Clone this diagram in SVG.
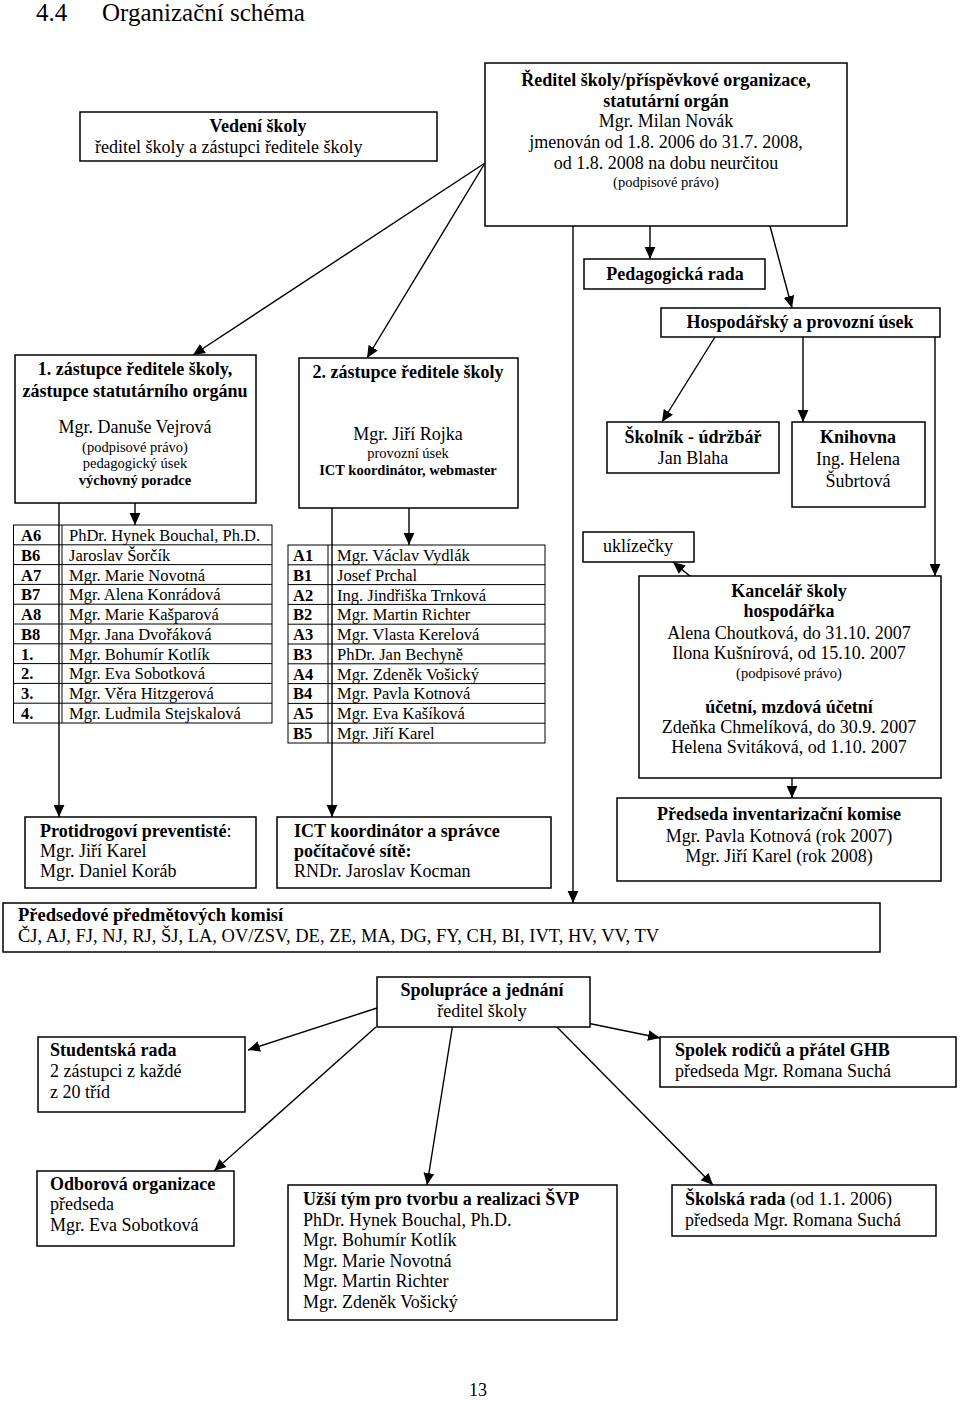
<svg xmlns="http://www.w3.org/2000/svg" width="960" height="1401" viewBox="0 0 960 1401">
<defs>
<style>
text{font-family:"Liberation Serif","Times New Roman",serif;font-size:18px;fill:#000}
.b{font-weight:bold}
.s{font-size:14.5px}
.c{text-anchor:middle}
.tb{font-size:16.5px}
.title{font-size:25px}
.wide{font-size:18.5px}
.box{fill:#fff;stroke:#000;stroke-width:1.5}
.cn line{stroke:#000;stroke-width:1.4;fill:none}
.grid{stroke:#000;stroke-width:1;fill:none}
</style>
<marker id="ah" viewBox="0 0 10 10" refX="10" refY="5" markerWidth="12" markerHeight="12" markerUnits="userSpaceOnUse" orient="auto">
<path d="M0,0.5 L10,5 L0,9.5 z" fill="#000"/>
</marker>
</defs>
<rect width="960" height="1401" fill="#fff"/>

<g id="title">
<text class="title" x="36" y="21">4.4</text>
<text class="title" x="102" y="21">Organizační schéma</text>
</g>

<g id="connectors" class="cn">
<line x1="485" y1="163" x2="193" y2="355" marker-end="url(#ah)"/>
<line x1="485" y1="163" x2="367" y2="358" marker-end="url(#ah)"/>
<line x1="650" y1="226" x2="650" y2="259" marker-end="url(#ah)"/>
<line x1="770" y1="226" x2="792" y2="308" marker-end="url(#ah)"/>
<line x1="573" y1="226" x2="573" y2="903" marker-end="url(#ah)"/>
<line x1="715" y1="337" x2="662" y2="422" marker-end="url(#ah)"/>
<line x1="803" y1="337" x2="803" y2="422" marker-end="url(#ah)"/>
<line x1="935" y1="337" x2="935" y2="576" marker-end="url(#ah)"/>
<line x1="727" y1="607" x2="673" y2="562" marker-end="url(#ah)"/>
<line x1="792" y1="768" x2="792" y2="798" marker-end="url(#ah)"/>
<line x1="59" y1="503" x2="59" y2="817" marker-end="url(#ah)"/>
<line x1="135" y1="503" x2="135" y2="525" marker-end="url(#ah)"/>
<line x1="332" y1="508" x2="332" y2="817" marker-end="url(#ah)"/>
<line x1="409" y1="508" x2="409" y2="545" marker-end="url(#ah)"/>
<line x1="377" y1="1008" x2="248" y2="1050" marker-end="url(#ah)"/>
<line x1="587" y1="1023" x2="660" y2="1038" marker-end="url(#ah)"/>
<line x1="376" y1="1027" x2="214" y2="1171" marker-end="url(#ah)"/>
<line x1="453" y1="1023" x2="427" y2="1185" marker-end="url(#ah)"/>
<line x1="554" y1="1024" x2="713" y2="1185" marker-end="url(#ah)"/>
</g>

<g id="vedeni">
<rect class="box" x="80" y="112" width="357" height="49"/>
<text class="b c" x="258" y="132">Vedení školy</text>
<text x="95" y="153">ředitel školy a zástupci ředitele školy</text>
</g>

<g id="reditel">
<rect class="box" x="485" y="63" width="362" height="163"/>
<text class="b c" x="666" y="86">Ředitel školy/příspěvkové organizace,</text>
<text class="b c" x="666" y="107">statutární orgán</text>
<text class="c" x="666" y="127">Mgr. Milan Novák</text>
<text class="c" x="666" y="148">jmenován od 1.8. 2006 do 31.7. 2008,</text>
<text class="c" x="666" y="169">od 1.8. 2008 na dobu neurčitou</text>
<text class="c s" x="666" y="187">(podpisové právo)</text>
</g>

<g id="pedagogicka-rada">
<rect class="box" x="584" y="259" width="181" height="30"/>
<text class="b c" x="675" y="280">Pedagogická rada</text>
</g>

<g id="hospodarsky">
<rect class="box" x="661" y="308" width="279" height="29"/>
<text class="b c" x="800" y="328">Hospodářský a provozní úsek</text>
</g>

<g id="zastupce1">
<rect class="box" x="15" y="355" width="241" height="148"/>
<text class="b c" x="135" y="375">1. zástupce ředitele školy,</text>
<text class="b c" x="135" y="397">zástupce statutárního orgánu</text>
<text class="c" x="135" y="433">Mgr. Danuše Vejrová</text>
<text class="c s" x="135" y="452">(podpisové právo)</text>
<text class="c s" x="135" y="468">pedagogický úsek</text>
<text class="c s b" x="135" y="485">výchovný poradce</text>
</g>

<g id="zastupce2">
<rect class="box" x="299" y="358" width="219" height="150"/>
<text class="b c" x="408" y="378">2. zástupce ředitele školy</text>
<text class="c" x="408" y="440">Mgr. Jiří Rojka</text>
<text class="c s" x="408" y="458">provozní úsek</text>
<text class="c s b" x="408" y="475">ICT koordinátor, webmaster</text>
</g>

<g id="skolnik">
<rect class="box" x="607" y="422" width="172" height="51"/>
<text class="b c" x="693" y="443">Školník - údržbář</text>
<text class="c" x="693" y="464">Jan Blaha</text>
</g>

<g id="knihovna">
<rect class="box" x="792" y="422" width="133" height="85"/>
<text class="b c" x="858" y="443">Knihovna</text>
<text class="c" x="858" y="465">Ing. Helena</text>
<text class="c" x="858" y="487">Šubrtová</text>
</g>

<g id="tabulka-1">
<rect class="grid" x="13.5" y="525" width="258.5" height="198"/>
<path class="grid" d="M62,525V723 M13.5,544.8H272 M13.5,564.6H272 M13.5,584.4H272 M13.5,604.2H272 M13.5,624H272 M13.5,643.8H272 M13.5,663.6H272 M13.5,683.4H272 M13.5,703.2H272"/>
<text class="tb b" x="21" y="541">A6</text><text class="tb" x="69" y="541">PhDr. Hynek Bouchal, Ph.D.</text>
<text class="tb b" x="21" y="561">B6</text><text class="tb" x="69" y="561">Jaroslav Šorčík</text>
<text class="tb b" x="21" y="581">A7</text><text class="tb" x="69" y="581">Mgr. Marie Novotná</text>
<text class="tb b" x="21" y="600">B7</text><text class="tb" x="69" y="600">Mgr. Alena Konrádová</text>
<text class="tb b" x="21" y="620">A8</text><text class="tb" x="69" y="620">Mgr. Marie Kašparová</text>
<text class="tb b" x="21" y="640">B8</text><text class="tb" x="69" y="640">Mgr. Jana Dvořáková</text>
<text class="tb b" x="21" y="660">1.</text><text class="tb" x="69" y="660">Mgr. Bohumír Kotlík</text>
<text class="tb b" x="21" y="679">2.</text><text class="tb" x="69" y="679">Mgr. Eva Sobotková</text>
<text class="tb b" x="21" y="699">3.</text><text class="tb" x="69" y="699">Mgr. Věra Hitzgerová</text>
<text class="tb b" x="21" y="719">4.</text><text class="tb" x="69" y="719">Mgr. Ludmila Stejskalová</text>
</g>

<g id="tabulka-2">
<rect class="grid" x="288" y="545" width="257" height="198"/>
<path class="grid" d="M328,545V743 M288,564.8H545 M288,584.6H545 M288,604.4H545 M288,624.2H545 M288,644H545 M288,663.8H545 M288,683.6H545 M288,703.4H545 M288,723.2H545"/>
<text class="tb b" x="293" y="561">A1</text><text class="tb" x="337" y="561">Mgr. Václav Vydlák</text>
<text class="tb b" x="293" y="581">B1</text><text class="tb" x="337" y="581">Josef Prchal</text>
<text class="tb b" x="293" y="601">A2</text><text class="tb" x="337" y="601">Ing. Jindřiška Trnková</text>
<text class="tb b" x="293" y="620">B2</text><text class="tb" x="337" y="620">Mgr. Martin Richter</text>
<text class="tb b" x="293" y="640">A3</text><text class="tb" x="337" y="640">Mgr. Vlasta Kerelová</text>
<text class="tb b" x="293" y="660">B3</text><text class="tb" x="337" y="660">PhDr. Jan Bechyně</text>
<text class="tb b" x="293" y="680">A4</text><text class="tb" x="337" y="680">Mgr. Zdeněk Vošický</text>
<text class="tb b" x="293" y="699">B4</text><text class="tb" x="337" y="699">Mgr. Pavla Kotnová</text>
<text class="tb b" x="293" y="719">A5</text><text class="tb" x="337" y="719">Mgr. Eva Kašíková</text>
<text class="tb b" x="293" y="739">B5</text><text class="tb" x="337" y="739">Mgr. Jiří Karel</text>
</g>

<g id="uklizecky">
<rect class="box" x="583" y="532" width="111" height="30"/>
<text class="c" x="638" y="552">uklízečky</text>
</g>

<g id="kancelar">
<rect class="box" x="639" y="576" width="302" height="202"/>
<text class="b c" x="789" y="597">Kancelář školy</text>
<text class="b c" x="789" y="617">hospodářka</text>
<text class="c" x="789" y="639">Alena Choutková, do 31.10. 2007</text>
<text class="c" x="789" y="659">Ilona Kušnírová, od 15.10. 2007</text>
<text class="c s" x="789" y="678">(podpisové právo)</text>
<text class="b c" x="789" y="713">účetní, mzdová účetní</text>
<text class="c" x="789" y="733">Zdeňka Chmelíková, do 30.9. 2007</text>
<text class="c" x="789" y="753">Helena Svitáková, od 1.10. 2007</text>
</g>

<g id="protidrogovi">
<rect class="box" x="25" y="817" width="231" height="71"/>
<text x="40" y="837"><tspan class="b">Protidrogoví preventisté</tspan>:</text>
<text x="40" y="857">Mgr. Jiří Karel</text>
<text x="40" y="877">Mgr. Daniel Koráb</text>
</g>

<g id="ict">
<rect class="box" x="277" y="817" width="274" height="71"/>
<text class="b" x="294" y="837">ICT koordinátor a správce</text>
<text class="b" x="294" y="857">počítačové sítě:</text>
<text x="294" y="877">RNDr. Jaroslav Kocman</text>
</g>

<g id="inventarizacni">
<rect class="box" x="617" y="798" width="324" height="83"/>
<text class="b c" x="779" y="820">Předseda inventarizační komise</text>
<text class="c" x="779" y="842">Mgr. Pavla Kotnová (rok 2007)</text>
<text class="c" x="779" y="862">Mgr. Jiří Karel (rok 2008)</text>
</g>

<g id="predsedove">
<rect class="box" x="3" y="903" width="877" height="49"/>
<text class="b wide" x="18" y="921">Předsedové předmětových komisí</text>
<text class="wide" x="18" y="942">ČJ, AJ, FJ, NJ, RJ, ŠJ, LA, OV/ZSV, DE, ZE, MA, DG, FY, CH, BI, IVT, HV, VV, TV</text>
</g>

<g id="spoluprace">
<rect class="box" x="377" y="977" width="213" height="50"/>
<text class="b c" x="482" y="996">Spolupráce a jednání</text>
<text class="c" x="482" y="1017">ředitel školy</text>
</g>

<g id="studentska-rada">
<rect class="box" x="38" y="1037" width="207" height="75"/>
<text class="b" x="50" y="1056">Studentská rada</text>
<text x="50" y="1077">2 zástupci z každé</text>
<text x="50" y="1098">z 20 tříd</text>
</g>

<g id="spolek">
<rect class="box" x="660" y="1037" width="296" height="50"/>
<text class="b" x="675" y="1056">Spolek rodičů a přátel GHB</text>
<text x="675" y="1077">předseda Mgr. Romana Suchá</text>
</g>

<g id="odborova">
<rect class="box" x="37" y="1171" width="197" height="75"/>
<text class="b" x="50" y="1190">Odborová organizace</text>
<text x="50" y="1210">předseda</text>
<text x="50" y="1231">Mgr. Eva Sobotková</text>
</g>

<g id="uzsi-tym">
<rect class="box" x="288" y="1185" width="329" height="135"/>
<text class="b" x="303" y="1205">Užší tým pro tvorbu a realizaci ŠVP</text>
<text x="303" y="1226">PhDr. Hynek Bouchal, Ph.D.</text>
<text x="303" y="1246">Mgr. Bohumír Kotlík</text>
<text x="303" y="1267">Mgr. Marie Novotná</text>
<text x="303" y="1287">Mgr. Martin Richter</text>
<text x="303" y="1308">Mgr. Zdeněk Vošický</text>
</g>

<g id="skolska-rada">
<rect class="box" x="672" y="1185" width="264" height="51"/>
<text x="685" y="1205"><tspan class="b">Školská rada</tspan> (od 1.1. 2006)</text>
<text x="685" y="1226">předseda Mgr. Romana Suchá</text>
</g>

<g id="strana">
<text class="c" x="478" y="1396" font-size="16">13</text>
</g>
</svg>
